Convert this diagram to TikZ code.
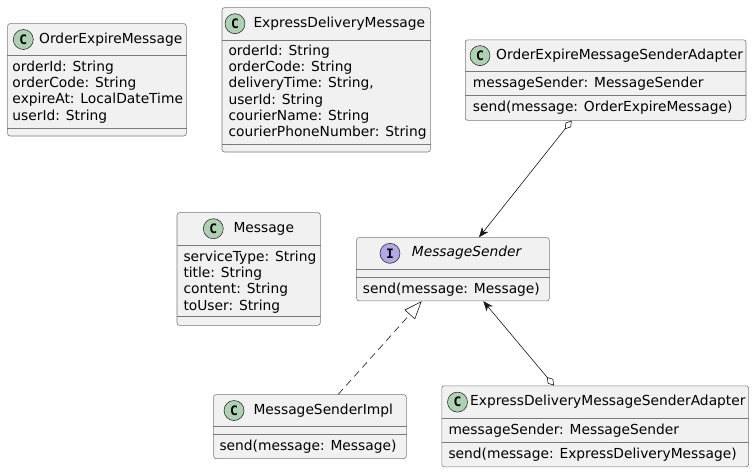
\documentclass[tikz,border=0pt]{standalone}
\usepackage{fontspec}
\setmainfont{DejaVu Sans}
\newfontfamily\iconfont{DejaVu Sans Mono}
\usetikzlibrary{arrows.meta}

\definecolor{umlfill}{HTML}{F1F1F1}
\definecolor{umlline}{HTML}{181818}
\definecolor{umlframe}{HTML}{7A7A7A}
\definecolor{cicon}{HTML}{ADD1B2}
\definecolor{iicon}{HTML}{B4A7E5}

\newcommand{\umlfont}{\fontsize{13.8}{16.3}\selectfont}

\begin{document}
\begin{tikzpicture}[x=1pt, y=-1pt,
    classbox/.style={draw=umlframe, fill=umlfill, line width=0.6pt, rounded corners=2.5pt, inner sep=0pt, anchor=north west},
    sepline/.style={draw=umlframe, line width=0.6pt},
    badge/.style={circle, draw=umlline, line width=0.5pt, minimum size=20pt, inner sep=0pt, font=\iconfont\bfseries\fontsize{13}{13}\selectfont},
    cbadge/.style={badge, fill=cicon},
    ibadge/.style={badge, fill=iicon},
    title/.style={anchor=west, inner sep=0pt, text height=10pt, text depth=3pt, font=\umlfont},
    member/.style={anchor=west, inner sep=0pt, text height=10pt, text depth=3pt, font=\umlfont},
    assoc/.style={draw=umlline, line width=0.6pt, {Diamond[open, length=11pt, width=7pt]}-{Stealth[length=10pt, width=8pt, inset=3pt]}},
    realize/.style={draw=umlline, line width=0.6pt, dash pattern=on 7pt off 5pt, -{Triangle[open, length=18pt, width=14pt]}}]
    \useasboundingbox[fill=white] (0,0) rectangle (755,472);

    % --- OrderExpireMessage ---
    \node[classbox, minimum width=178.7pt, minimum height=112.4pt] (oem) at (7.3,23.3) {};
    \draw[sepline] (oem.west |- 0,55.7) -- (oem.east |- 0,55.7);
    \draw[sepline] (oem.west |- 0,128.3) -- (oem.east |- 0,128.3);
    \node[cbadge] (oemC) at (23.3,39.5) {C};
    \node[title] (oemT) at (39,39.5) {OrderExpireMessage};
    \foreach \txt [count=\i] in {orderId: String, orderCode: String, expireAt: LocalDateTime, userId: String}
        \node[member] (oem\i) at (12.3,67.7+16.3*\i-16.3) {\txt};

    % --- ExpressDeliveryMessage ---
    \node[classbox, minimum width=208.3pt, minimum height=144.4pt] (edm) at (221.7,7.3) {};
    \draw[sepline] (edm.west |- 0,40) -- (edm.east |- 0,40);
    \draw[sepline] (edm.west |- 0,144) -- (edm.east |- 0,144);
    \node[cbadge] (edmC) at (235,23.7) {C};
    \node[title] (edmT) at (253.3,23.7) {ExpressDeliveryMessage};
    \foreach \txt [count=\i] in {orderId: String, orderCode: String, {deliveryTime: String,}, userId: String, courierName: String, courierPhoneNumber: String}
        \node[member] (edm\i) at (228.3,51.7+16.3*\i-16.3) {\txt};

    % --- OrderExpireMessageSenderAdapter ---
    \node[classbox, minimum width=280.7pt, minimum height=80.5pt] (oemsa) at (465,39.5) {};
    \draw[sepline] (oemsa.west |- 0,71.7) -- (oemsa.east |- 0,71.7);
    \draw[sepline] (oemsa.west |- 0,95.7) -- (oemsa.east |- 0,95.7);
    \node[cbadge] (oemsaC) at (480,55.6) {C};
    \node[title] (oemsaT) at (496,55.6) {OrderExpireMessageSenderAdapter};
    \node[member] (oemsa1) at (472.7,84) {messageSender: MessageSender};
    \node[member] (oemsa2) at (472.7,108.3) {send(message: OrderExpireMessage)};

    % --- Message ---
    \node[classbox, minimum width=143.3pt, minimum height=112.7pt] (msg) at (176.7,212.3) {};
    \draw[sepline] (msg.west |- 0,245) -- (msg.east |- 0,245);
    \draw[sepline] (msg.west |- 0,316.7) -- (msg.east |- 0,316.7);
    \node[cbadge] (msgC) at (213.3,228.7) {C};
    \node[title] (msgT) at (233.3,228.7) {Message};
    \foreach \txt [count=\i] in {serviceType: String, title: String, content: String, toUser: String}
        \node[member] (msg\i) at (183.3,257.7+16.3*\i-16.3) {\txt};

    % --- MessageSender (interface) ---
    \node[classbox, minimum width=192.7pt, minimum height=63.3pt] (ms) at (356.3,237.3) {};
    \draw[sepline] (ms.west |- 0,269.3) -- (ms.east |- 0,269.3);
    \draw[sepline] (ms.west |- 0,277.3) -- (ms.east |- 0,277.3);
    \node[ibadge] (msI) at (390,253.3) {I};
    \node[title, font=\umlfont\itshape] (msT) at (411.7,253.3) {MessageSender};
    \node[member] (ms1) at (362.7,289.5) {send(message: Message)};

    % --- MessageSenderImpl ---
    \node[classbox, minimum width=192.7pt, minimum height=64pt] (msi) at (213.3,394.3) {};
    \draw[sepline] (msi.west |- 0,426.7) -- (msi.east |- 0,426.7);
    \draw[sepline] (msi.west |- 0,434.3) -- (msi.east |- 0,434.3);
    \node[cbadge] (msiC) at (234,410.5) {C};
    \node[title] (msiT) at (253.3,410.5) {MessageSenderImpl};
    \node[member] (msi1) at (219.3,446.5) {send(message: Message)};

    % --- ExpressDeliveryMessageSenderAdapter ---
    \node[classbox, minimum width=306.8pt, minimum height=81pt] (edmsa) at (441.5,385.5) {};
    \draw[sepline] (edmsa.west |- 0,418.7) -- (edmsa.east |- 0,418.7);
    \draw[sepline] (edmsa.west |- 0,442.3) -- (edmsa.east |- 0,442.3);
    \node[cbadge] (edmsaC) at (457.5,402.1) {C};
    \node[title] (edmsaT) at (470,402.1) {ExpressDeliveryMessageSenderAdapter};
    \node[member] (edmsa1) at (448.3,430.5) {messageSender: MessageSender};
    \node[member] (edmsa2) at (448.3,454.5) {send(message: ExpressDeliveryMessage)};

    % --- Relations ---
    \draw[assoc] (oemsa.south -| 571.7,0) -- (ms.north -| 479,0);
    \draw[assoc] (edmsa.north -| 554,0) -- (ms.south -| 483.3,0);
    \draw[realize] (msi.north -| 338.3,0) -- (ms.south -| 421.7,0);
\end{tikzpicture}
\end{document}
